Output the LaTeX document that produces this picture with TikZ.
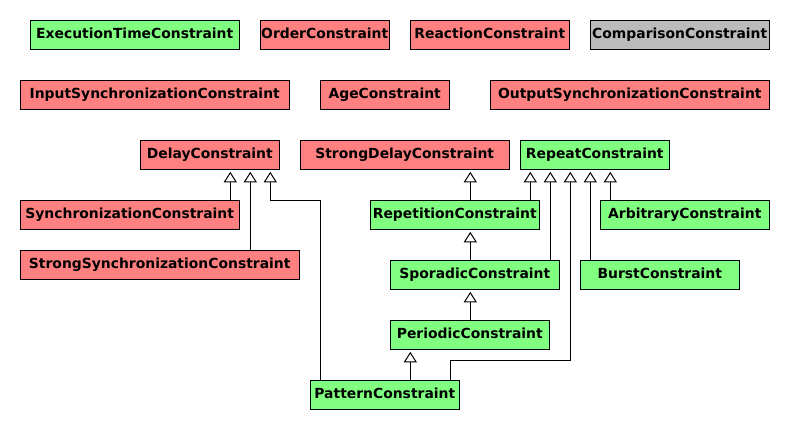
\documentclass[tikz,border=0pt]{standalone}
\usepackage{fontspec}
\setmainfont{DejaVu Sans}
\usetikzlibrary{arrows.meta}
\definecolor{cred}{HTML}{FF8080}
\definecolor{cgreen}{HTML}{80FF80}
\definecolor{cgray}{HTML}{BBBBBB}
\tikzset{
  box/.style={draw=black, line width=1pt, minimum height=29pt, inner sep=0pt,
    text height=10pt, text depth=3pt, font=\fontsize{13.9}{16}\selectfont\bfseries},
  rbox/.style={box, fill=cred},
  gbox/.style={box, fill=cgreen},
  ybox/.style={box, fill=cgray},
  inh/.style={line width=1pt, -{Triangle[open, width=13pt, length=10.5pt, line width=1pt]}, shorten >=2pt}
}
\begin{document}
\begin{tikzpicture}[x=1pt, y=-1pt]
\useasboundingbox (0,0) rectangle (790,430);
% row 1
\node[gbox, minimum width=209pt] (exec) at (134.7,34.8) {ExecutionTimeConstraint};
\node[rbox, minimum width=129pt] (order) at (324.7,34.8) {OrderConstraint};
\node[rbox, minimum width=159pt] (reaction) at (489.8,34.8) {ReactionConstraint};
\node[ybox, minimum width=179pt] (comparison) at (679.7,34.8) {ComparisonConstraint};
% row 2
\node[rbox, minimum width=269pt] (input) at (154.7,94.7) {InputSynchronizationConstraint};
\node[rbox, minimum width=129pt] (age) at (384.7,94.7) {AgeConstraint};
\node[rbox, minimum width=279pt] (output) at (629.8,94.7) {OutputSynchronizationConstraint};
% row 3
\node[rbox, minimum width=139pt] (delay) at (209.8,154.8) {DelayConstraint};
\node[rbox, minimum width=209pt] (strongdelay) at (404.7,154.8) {StrongDelayConstraint};
\node[gbox, minimum width=149pt] (repeat) at (594.8,154.8) {RepeatConstraint};
% row 4
\node[rbox, minimum width=219pt] (sync) at (129.7,214.8) {SynchronizationConstraint};
\node[gbox, minimum width=169pt] (repetition) at (454.8,214.8) {RepetitionConstraint};
\node[gbox, minimum width=169pt] (arbitrary) at (684.8,214.8) {ArbitraryConstraint};
% row 5
\node[rbox, minimum width=279pt] (strongsync) at (159.7,264.7) {StrongSynchronizationConstraint};
\node[gbox, minimum width=169pt] (sporadic) at (474.8,274.8) {SporadicConstraint};
\node[gbox, minimum width=159pt] (burst) at (659.8,274.8) {BurstConstraint};
% rows 6,7
\node[gbox, minimum width=159pt] (periodic) at (469.8,334.8) {PeriodicConstraint};
\node[gbox, minimum width=149pt] (pattern) at (384.8,394.8) {PatternConstraint};
% helper columns
\coordinate (c230) at (230.3,0);
\coordinate (c250) at (250.3,0);
\coordinate (c270) at (270.3,0);
\coordinate (c320) at (320.3,0);
\coordinate (c410) at (410.3,0);
\coordinate (c450) at (450.3,0);
\coordinate (c470) at (470.3,0);
\coordinate (c530) at (530.3,0);
\coordinate (c550) at (550.3,0);
\coordinate (c570) at (570.3,0);
\coordinate (c590) at (590.3,0);
\coordinate (c610) at (610.3,0);
\coordinate (r200) at (0,200.3);
\coordinate (r360) at (0,360.3);
% connectors
\draw[inh] (sync.north -| c230) -- (delay.south -| c230);
\draw[inh] (strongsync.north -| c250) -- (delay.south -| c250);
\draw[inh] (pattern.north -| c320) -- (c320 |- r200) -- (c270 |- r200) -- (delay.south -| c270);
\draw[inh] (repetition.north -| c470) -- (strongdelay.south -| c470);
\draw[inh] (repetition.north -| c530) -- (repeat.south -| c530);
\draw[inh] (sporadic.north -| c470) -- (repetition.south -| c470);
\draw[inh] (sporadic.north -| c550) -- (repeat.south -| c550);
\draw[inh] (pattern.north -| c450) -- (c450 |- r360) -- (c570 |- r360) -- (repeat.south -| c570);
\draw[inh] (burst.north -| c590) -- (repeat.south -| c590);
\draw[inh] (arbitrary.north -| c610) -- (repeat.south -| c610);
\draw[inh] (periodic.north -| c470) -- (sporadic.south -| c470);
\draw[inh] (pattern.north -| c410) -- (periodic.south -| c410);
\end{tikzpicture}
\end{document}
